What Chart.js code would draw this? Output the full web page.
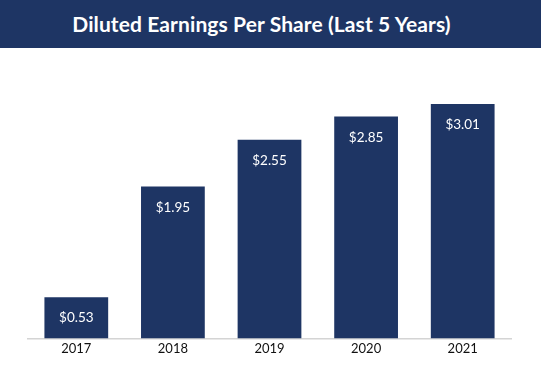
<!DOCTYPE html>
<html>
<head>
<meta charset="utf-8">
<script src="https://cdn.jsdelivr.net/npm/chart.js@4/dist/chart.umd.min.js"></script>
<style>
  html, body { margin: 0; padding: 0; background: #ffffff; }
  #wrap { width: 541px; height: 365px; position: relative; overflow: hidden; }
  #banner {
    position: absolute; left: 0; top: 0; width: 523px; height: 48px; padding-right: 18px;
    background: #1e3564; color: #ffffff;
    font-family: Lato, "Open Sans", sans-serif; font-weight: 700; font-size: 21px;
    line-height: 48px; text-align: center; letter-spacing: 0.1px;
  }
  #holder { position: absolute; left: 0; top: 48px; width: 541px; height: 317px; }
</style>
</head>
<body>
<div id="wrap">
  <div id="banner">Diluted Earnings Per Share (Last 5 Years)</div>
  <div id="holder"><canvas id="c" width="541" height="317"></canvas></div>
</div>
<script>
const categories = ["2017", "2018", "2019", "2020", "2021"];
const epsValues = [0.53, 1.95, 2.55, 2.85, 3.01];
const valueLabels = ["$0.53", "$1.95", "$2.55", "$2.85", "$3.01"];

const barColor = "#1e3564";

const insideLabels = {
  id: "insideLabels",
  afterDatasetsDraw(chart) {
    const ctx = chart.ctx;
    const meta = chart.getDatasetMeta(0);
    ctx.save();
    ctx.fillStyle = "#ffffff";
    ctx.font = "13.5px Lato, 'Open Sans', sans-serif";
    ctx.textAlign = "center";
    ctx.textBaseline = "middle";
    meta.data.forEach((bar, i) => {
      ctx.fillText(valueLabels[i], bar.x, bar.y + 21);
    });
    ctx.restore();
  }
};

new Chart(document.getElementById("c"), {
  type: "bar",
  data: {
    labels: categories,
    datasets: [{
      data: epsValues,
      backgroundColor: barColor,
      borderWidth: 0,
      categoryPercentage: 1.0,
      barPercentage: 0.66
    }]
  },
  options: {
    responsive: false,
    animation: false,
    layout: { padding: { left: 28, right: 30, top: 14, bottom: 5 } },
    plugins: {
      legend: { display: false },
      tooltip: { enabled: false },
      title: { display: false }
    },
    scales: {
      x: {
        grid: { display: false, drawTicks: false },
        border: { display: true, color: "#d4d4d4", width: 1.5 },
        ticks: {
          color: "#111111",
          padding: 3,
          font: { family: "Lato, 'Open Sans', sans-serif", size: 13 }
        }
      },
      y: {
        display: false,
        min: 0,
        max: 3.55
      }
    }
  },
  plugins: [insideLabels]
});
</script>
</body>
</html>
